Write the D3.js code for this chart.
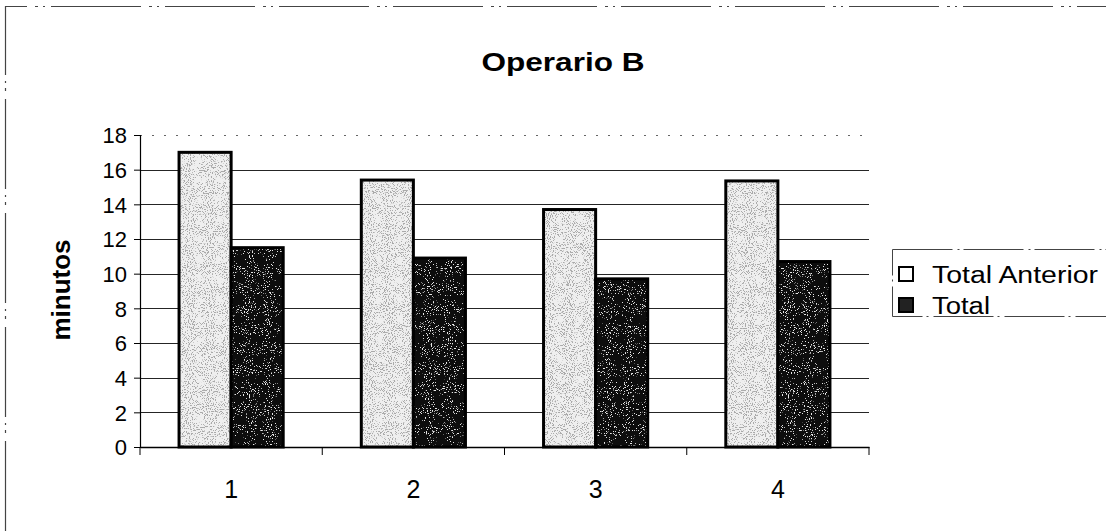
<!DOCTYPE html>
<html>
<head>
<meta charset="utf-8">
<script src="https://cdn.jsdelivr.net/npm/d3@7"></script>
<style>
  html, body { margin: 0; padding: 0; background: #fff; }
  svg { display: block; }
  text { font-family: "Liberation Sans", Arial, sans-serif; fill: #000; }
</style>
</head>
<body>
<svg id="chart" width="1106" height="531"></svg>
<script>
// Chart data
const categories = ["1", "2", "3", "4"];
const seriesNames = ["Total Anterior", "Total"];
const totalAnterior = [17, 15.4, 13.7, 15.35];
const total = [11.5, 10.9, 9.7, 10.7];
const yTicks = [0, 2, 4, 6, 8, 10, 12, 14, 16, 18];

const svg = d3.select("#chart");
const W = 1106, H = 531;

const plot = { left: 140, right: 869, top: 135, bottom: 447 };

// Speckled textures for the two series
const defs = svg.append("defs");
function speckle(id, seed, rgb, slope, offset) {
  const f = defs.append("filter").attr("id", id)
    .attr("x", 0).attr("y", 0).attr("width", 1).attr("height", 1);
  f.append("feTurbulence").attr("type", "fractalNoise").attr("baseFrequency", 0.95)
    .attr("numOctaves", 2).attr("seed", seed).attr("result", "n");
  f.append("feColorMatrix").attr("in", "n").attr("type", "matrix")
    .attr("values", `0 0 0 0 ${rgb}  0 0 0 0 ${rgb}  0 0 0 0 ${rgb}  0 0 0 ${slope} ${offset}`)
    .attr("result", "dots");
  f.append("feComposite").attr("in", "dots").attr("in2", "SourceGraphic")
    .attr("operator", "in").attr("result", "d2");
  f.append("feMerge").selectAll("feMergeNode").data(["SourceGraphic", "d2"])
    .join("feMergeNode").attr("in", d => d);
}
speckle("lightTex", 3, 0.4, -14, 6.2);
speckle("darkTex", 7, 0.8, -14, 5.0);

// Outer chart frame (top and left edges)
svg.append("path")
  .attr("d", `M5.5,${H} V6.5 H${W}`)
  .attr("fill", "none").attr("stroke", "#444").attr("stroke-width", 1.2)
  .attr("stroke-dasharray", "90 8 3 5 2 6");

// Scales
const x0 = d3.scaleBand().domain(categories).range([plot.left, plot.right]).paddingInner(0).paddingOuter(0);
const bw = x0.bandwidth() / (2 + 1.5);
const y = d3.scaleLinear().domain([0, 18]).range([plot.bottom, plot.top]);

// Gridlines
svg.append("g").selectAll("line").data(yTicks.filter(d => d > 0)).join("line")
  .attr("x1", plot.left).attr("x2", plot.right)
  .attr("y1", d => Math.round(y(d)) + 0.5).attr("y2", d => Math.round(y(d)) + 0.5)
  .attr("stroke", "#000").attr("stroke-width", 1)
  .attr("stroke-dasharray", d => d === 18 ? "2 10" : null)
  .attr("opacity", d => d === 18 ? 0.6 : 0.85);

// Bars
const seriesData = [totalAnterior, total];
const fills = ["#efefef", "#111111"];
const filters = ["url(#lightTex)", "url(#darkTex)"];
const barX = (i, si) => x0(categories[i]) + bw * 0.75 + si * bw;
seriesData.forEach((vals, si) => {
  svg.append("g").selectAll("rect").data(vals).join("rect")
    .attr("x", (d, i) => barX(i, si))
    .attr("y", d => y(d))
    .attr("width", bw)
    .attr("height", d => y(0) - y(d))
    .attr("fill", fills[si])
    .attr("filter", filters[si]);
  svg.append("g").selectAll("rect").data(vals).join("rect")
    .attr("x", (d, i) => barX(i, si))
    .attr("y", d => y(d))
    .attr("width", bw)
    .attr("height", d => y(0) - y(d))
    .attr("fill", "none")
    .attr("stroke", "#000").attr("stroke-width", 3);
});

// Y axis
const yAxis = d3.axisLeft(y).tickValues(yTicks).tickSize(6).tickPadding(7).tickFormat(d3.format("d"));
const gy = svg.append("g").attr("transform", `translate(${plot.left},0)`).call(yAxis);
gy.select(".domain").attr("stroke", "#000").attr("stroke-width", 1.2);
gy.selectAll(".tick line").attr("stroke", "#000");
gy.selectAll("text").style("font-size", "22px").attr("font-family", "'Liberation Sans', Arial, sans-serif")
  .attr("dy", "0.36em");

// X axis
const xAxis = d3.axisBottom(x0).tickSize(0).tickPadding(33);
const gx = svg.append("g").attr("transform", `translate(0,${plot.bottom})`).call(xAxis);
gx.select(".domain").attr("stroke", "#000").attr("stroke-width", 1.5);
gx.selectAll("text").style("font-size", "25px").attr("font-family", "'Liberation Sans Narrow', 'Liberation Sans', Arial, sans-serif");
// boundary ticks between categories
const bounds = categories.map(c => x0(c)).concat([plot.right]);
gx.append("g").selectAll("line").data(bounds).join("line")
  .attr("x1", d => d).attr("x2", d => d).attr("y1", 0).attr("y2", 8)
  .attr("stroke", "#000").attr("stroke-width", 1);

// Title
svg.append("text").attr("x", 563).attr("y", 71).attr("text-anchor", "middle")
  .attr("textLength", 163).attr("lengthAdjust", "spacingAndGlyphs")
  .style("font-size", "25px").style("font-weight", "bold").text("Operario B");

// Y axis title
svg.append("text").attr("transform", "translate(70,290) rotate(-90)").attr("text-anchor", "middle")
  .style("font-size", "26px").style("font-weight", "bold").text("minutos");

// Legend
const lg = svg.append("g");
lg.append("rect").attr("x", 892.5).attr("y", 249.5).attr("width", 230).attr("height", 67)
  .attr("fill", "#fff").attr("stroke", "#444").attr("stroke-width", 1).attr("stroke-dasharray", "60 5 2 4");
const legendWidths = [166, 58];
seriesNames.forEach((name, i) => {
  const cy = 274 + i * 31;
  lg.append("rect").attr("x", 899).attr("y", cy - 7).attr("width", 14).attr("height", 14)
    .attr("fill", i === 0 ? "#fff" : "#222").attr("stroke", "#000").attr("stroke-width", 2);
  lg.append("text").attr("x", 932).attr("y", cy + 8.5).style("font-size", "23px")
    .attr("textLength", legendWidths[i]).attr("lengthAdjust", "spacingAndGlyphs")
    .text(name);
});
</script>
</body>
</html>
